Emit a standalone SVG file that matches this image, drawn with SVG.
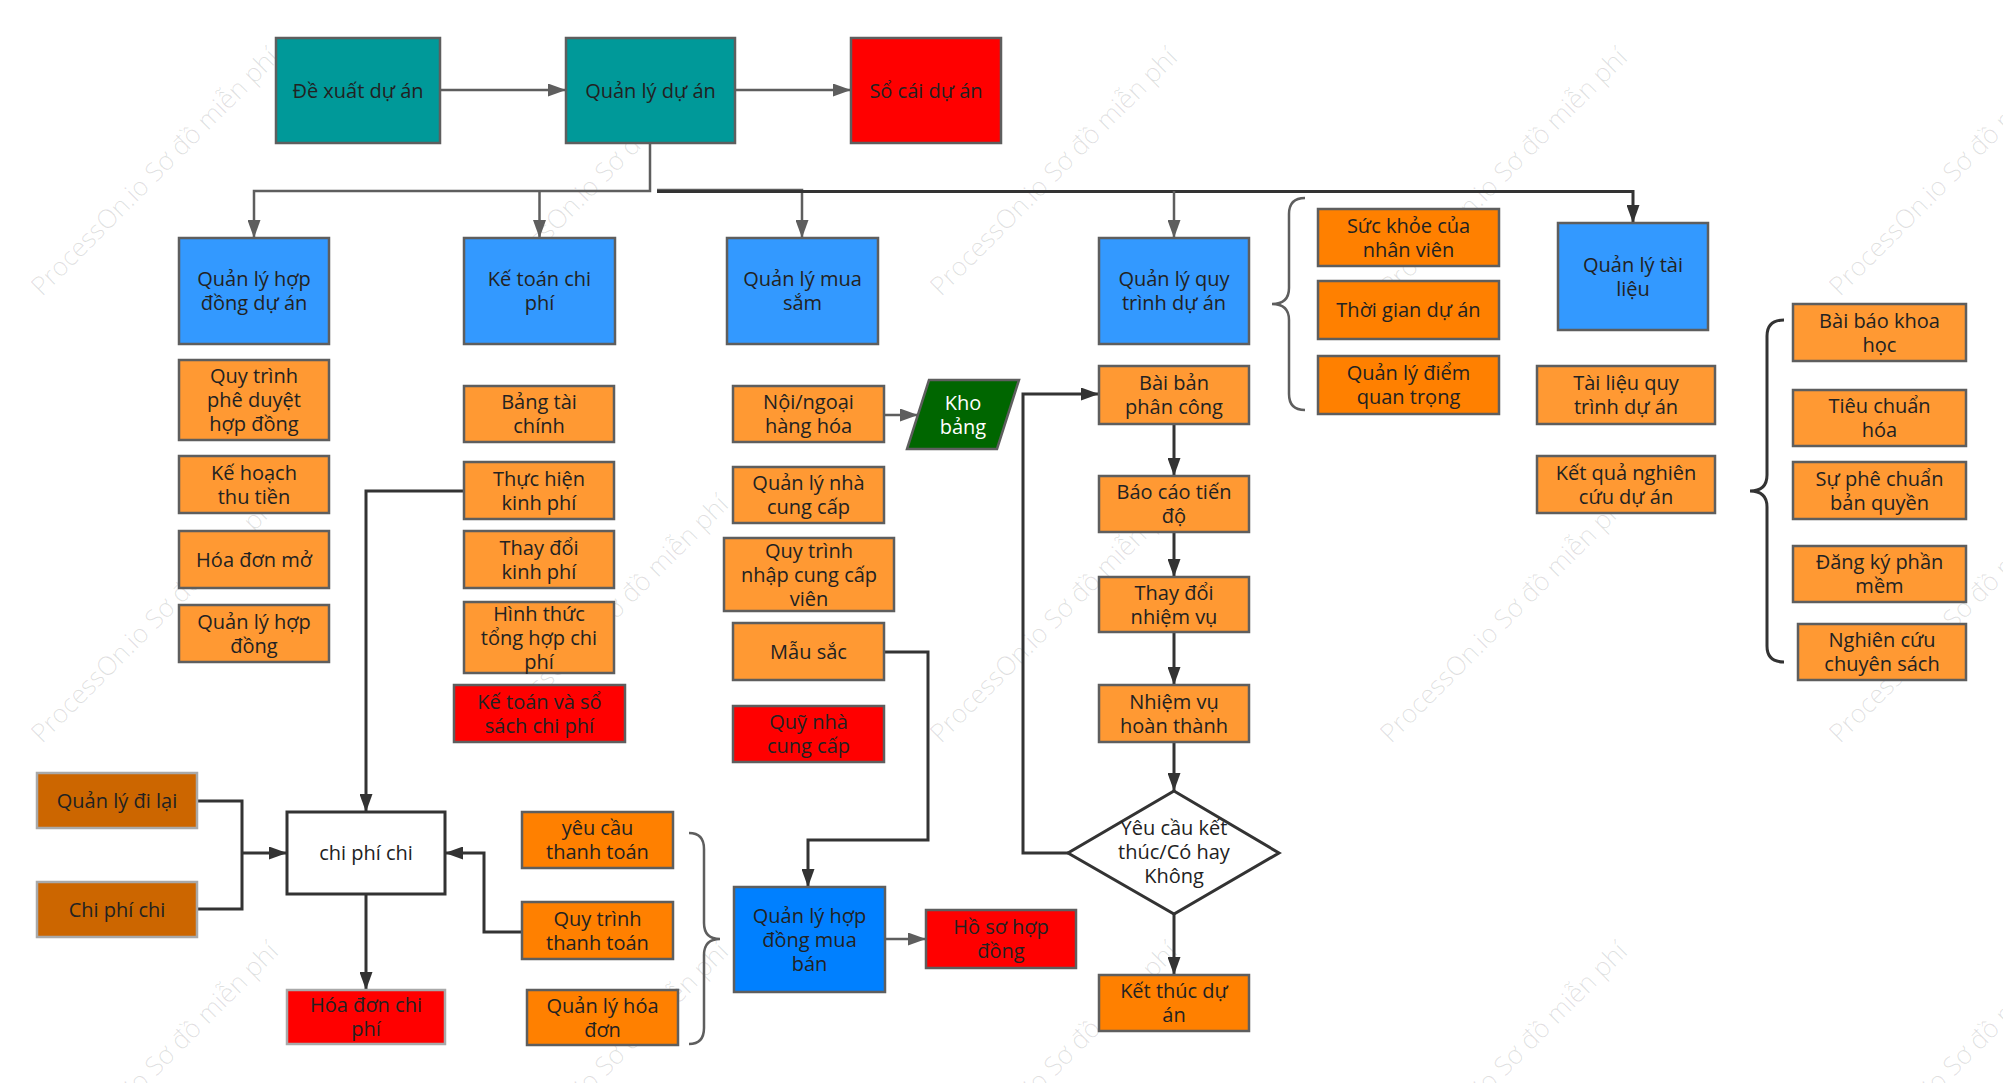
<svg xmlns="http://www.w3.org/2000/svg" width="2003" height="1083" viewBox="0 0 2003 1083">
<defs>
<style>
.b{stroke:#5e5e5e;stroke-width:2.5}
.bl{stroke:#a9a9a9;stroke-width:2.5}
.bd{stroke:#333;stroke-width:3}
.teal{fill:#009999}.red{fill:#ff0000}.blue{fill:#3399ff}.or{fill:#ff9933}.ord{fill:#ff8000}.br{fill:#cc6600}.bb{fill:#0080ff}.gr{fill:#006600}.wh{fill:#ffffff}
text{font-family:"Open Sans","Noto Sans","DejaVu Sans",sans-serif;font-size:20px;fill:#222;text-anchor:middle}
.wt{fill:#ffffff}
.cg{fill:none;stroke:#5e5e5e;stroke-width:2.5}
.cd{fill:none;stroke:#333;stroke-width:3}
.wm{font-size:26px;fill:#000;fill-opacity:0.12;text-anchor:start;font-weight:300}
</style>
<marker id="ag" viewBox="0 0 18 13" refX="18" refY="6.5" markerWidth="18" markerHeight="13" markerUnits="userSpaceOnUse" orient="auto"><path d="M0,0 L18,6.5 L0,13 z" fill="#5e5e5e"/></marker>
<marker id="ad" viewBox="0 0 18 13" refX="18" refY="6.5" markerWidth="18" markerHeight="13" markerUnits="userSpaceOnUse" orient="auto"><path d="M0,0 L18,6.5 L0,13 z" fill="#333"/></marker>
</defs>
<rect width="2003" height="1083" fill="#ffffff"/>

<g id="watermark">
<text class="wm" transform="translate(42,297) rotate(-45)">ProcessOn.io Sơ đồ miễn phí</text>
<text class="wm" transform="translate(492,297) rotate(-45)">ProcessOn.io Sơ đồ miễn phí</text>
<text class="wm" transform="translate(941,297) rotate(-45)">ProcessOn.io Sơ đồ miễn phí</text>
<text class="wm" transform="translate(1391,297) rotate(-45)">ProcessOn.io Sơ đồ miễn phí</text>
<text class="wm" transform="translate(1840,297) rotate(-45)">ProcessOn.io Sơ đồ miễn phí</text>
<text class="wm" transform="translate(42,744) rotate(-45)">ProcessOn.io Sơ đồ miễn phí</text>
<text class="wm" transform="translate(492,744) rotate(-45)">ProcessOn.io Sơ đồ miễn phí</text>
<text class="wm" transform="translate(941,744) rotate(-45)">ProcessOn.io Sơ đồ miễn phí</text>
<text class="wm" transform="translate(1391,744) rotate(-45)">ProcessOn.io Sơ đồ miễn phí</text>
<text class="wm" transform="translate(1840,744) rotate(-45)">ProcessOn.io Sơ đồ miễn phí</text>
<text class="wm" transform="translate(42,1191) rotate(-45)">ProcessOn.io Sơ đồ miễn phí</text>
<text class="wm" transform="translate(492,1191) rotate(-45)">ProcessOn.io Sơ đồ miễn phí</text>
<text class="wm" transform="translate(941,1191) rotate(-45)">ProcessOn.io Sơ đồ miễn phí</text>
<text class="wm" transform="translate(1391,1191) rotate(-45)">ProcessOn.io Sơ đồ miễn phí</text>
<text class="wm" transform="translate(1840,1191) rotate(-45)">ProcessOn.io Sơ đồ miễn phí</text>
</g>

<g id="connectors">
<path class="cg" d="M440,90 H566" marker-end="url(#ag)"/>
<path class="cg" d="M735,90 H851" marker-end="url(#ag)"/>
<path class="cg" d="M650,143 V191 H254 V238" marker-end="url(#ag)"/>
<path class="cg" d="M539.5,191 V238" marker-end="url(#ag)"/>
<path class="cg" d="M657,190 H802 V238" marker-end="url(#ag)"/>
<path class="cd" d="M657,191.5 H1633 V223" marker-end="url(#ad)"/>
<path class="cg" d="M1174,191 V238" marker-end="url(#ag)"/>
<path class="cg" d="M885,415 H918" marker-end="url(#ag)"/>
<path class="cd" d="M884,652 H928 V840 H808 V887" marker-end="url(#ad)"/>
<path class="cg" d="M885,939 H926" marker-end="url(#ag)"/>
<path class="cd" d="M464,491 H366 V812" marker-end="url(#ad)"/>
<path class="cd" d="M366,894 V990" marker-end="url(#ad)"/>
<path class="cd" d="M197,801 H242 V909 H197"/>
<path class="cd" d="M242,853 H287" marker-end="url(#ad)"/>
<path class="cd" d="M522,932 H484 V853 H445" marker-end="url(#ad)"/>
<path class="cd" d="M1174,424 V476" marker-end="url(#ad)"/>
<path class="cd" d="M1174,532 V577" marker-end="url(#ad)"/>
<path class="cd" d="M1174,632 V685" marker-end="url(#ad)"/>
<path class="cd" d="M1174,742 V791" marker-end="url(#ad)"/>
<path class="cd" d="M1174,914 V975" marker-end="url(#ad)"/>
<path class="cd" d="M1068,853 H1023 V394 H1099" marker-end="url(#ad)"/>
<path class="cg" d="M1305,198 Q1289,198 1289,214 L1289,288 Q1289,304 1272,304 Q1289,304 1289,320 L1289,394 Q1289,410 1305,410"/>
<path class="cd" d="M1784,320 Q1767,320 1767,336 L1767,475 Q1767,491 1750,491 Q1767,491 1767,507 L1767,646 Q1767,662 1784,662"/>
<path class="cg" d="M689,833 Q704,833 704,849 L704,923 Q704,939 720,939 Q704,939 704,955 L704,1028 Q704,1044 689,1044"/>
</g>

<g id="n_de_xuat"><rect class="b teal" x="276" y="38" width="164" height="105"/><text x="358" y="97.5">Đề xuất dự án</text></g>
<g id="n_quan_ly_du_an"><rect class="b teal" x="566" y="38" width="169" height="105"/><text x="650.5" y="97.5">Quản lý dự án</text></g>
<g id="n_so_cai"><rect class="b red" x="851" y="38" width="150" height="105"/><text x="926" y="97.5">Sổ cái dự án</text></g>

<g id="n_ql_hop_dong_du_an"><rect class="b blue" x="179" y="238" width="150" height="106"/><text x="254" y="286">Quản lý hợp<tspan x="254" dy="24">đồng dự án</tspan></text></g>
<g id="n_ke_toan_chi_phi"><rect class="b blue" x="464" y="238" width="151" height="106"/><text x="539.5" y="286">Kế toán chi<tspan x="539.5" dy="24">phí</tspan></text></g>
<g id="n_ql_mua_sam"><rect class="b blue" x="727" y="238" width="151" height="106"/><text x="802.5" y="286">Quản lý mua<tspan x="802.5" dy="24">sắm</tspan></text></g>
<g id="n_ql_quy_trinh"><rect class="b blue" x="1099" y="238" width="150" height="106"/><text x="1174" y="286">Quản lý quy<tspan x="1174" dy="24">trình dự án</tspan></text></g>
<g id="n_ql_tai_lieu"><rect class="b blue" x="1558" y="223" width="150" height="107"/><text x="1633" y="271.5">Quản lý tài<tspan x="1633" dy="24">liệu</tspan></text></g>

<g id="n_qt_phe_duyet"><rect class="b or" x="179" y="360" width="150" height="80"/><text x="254" y="383">Quy trình<tspan x="254" dy="24">phê duyệt</tspan><tspan x="254" dy="24">hợp đồng</tspan></text></g>
<g id="n_ke_hoach_thu_tien"><rect class="b or" x="179" y="456" width="150" height="57"/><text x="254" y="479.5">Kế hoạch<tspan x="254" dy="24">thu tiền</tspan></text></g>
<g id="n_hoa_don_mo"><rect class="b or" x="179" y="531" width="150" height="57"/><text x="254" y="566.5">Hóa đơn mở</text></g>
<g id="n_ql_hop_dong"><rect class="b or" x="179" y="605" width="150" height="57"/><text x="254" y="628.5">Quản lý hợp<tspan x="254" dy="24">đồng</tspan></text></g>

<g id="n_bang_tai_chinh"><rect class="b or" x="464" y="386" width="150" height="56"/><text x="539" y="409">Bảng tài<tspan x="539" dy="24">chính</tspan></text></g>
<g id="n_thuc_hien_kinh_phi"><rect class="b or" x="464" y="462" width="150" height="57"/><text x="539" y="485.5">Thực hiện<tspan x="539" dy="24">kinh phí</tspan></text></g>
<g id="n_thay_doi_kinh_phi"><rect class="b or" x="464" y="531" width="150" height="57"/><text x="539" y="554.5">Thay đổi<tspan x="539" dy="24">kinh phí</tspan></text></g>
<g id="n_hinh_thuc"><rect class="b or" x="464" y="602" width="150" height="71"/><text x="539" y="620.5">Hình thức<tspan x="539" dy="24">tổng hợp chi</tspan><tspan x="539" dy="24">phí</tspan></text></g>
<g id="n_ke_toan_so_sach"><rect class="b red" x="454" y="685" width="171" height="57"/><text x="539.5" y="708.5">Kế toán và sổ<tspan x="539.5" dy="24">sách chi phí</tspan></text></g>

<g id="n_noi_ngoai"><rect class="b or" x="733" y="386" width="151" height="56"/><text x="808.5" y="409">Nội/ngoại<tspan x="808.5" dy="24">hàng hóa</tspan></text></g>
<g id="n_kho_bang"><path class="b gr" d="M929,380 L1019,380 L997,449 L907,449 Z"/><text class="wt" x="963" y="409.5">Kho<tspan x="963" dy="24">bảng</tspan></text></g>
<g id="n_ql_nha_cung_cap"><rect class="b or" x="733" y="467" width="151" height="56"/><text x="808.5" y="490">Quản lý nhà<tspan x="808.5" dy="24">cung cấp</tspan></text></g>
<g id="n_qt_nhap"><rect class="b or" x="724" y="538" width="170" height="73"/><text x="809" y="557.5">Quy trình<tspan x="809" dy="24">nhập cung cấp</tspan><tspan x="809" dy="24">viên</tspan></text></g>
<g id="n_mau_sac"><rect class="b or" x="733" y="623" width="151" height="57"/><text x="808.5" y="658.5">Mẫu sắc</text></g>
<g id="n_quy_ncc"><rect class="b red" x="733" y="706" width="151" height="56"/><text x="808.5" y="729">Quỹ nhà<tspan x="808.5" dy="24">cung cấp</tspan></text></g>
<g id="n_ql_hd_mua_ban"><rect class="b bb" x="734" y="887" width="151" height="105"/><text x="809.5" y="922.5">Quản lý hợp<tspan x="809.5" dy="24">đồng mua</tspan><tspan x="809.5" dy="24">bán</tspan></text></g>
<g id="n_ho_so_hd"><rect class="b red" x="926" y="910" width="150" height="58"/><text x="1001" y="934">Hồ sơ hợp<tspan x="1001" dy="24">đồng</tspan></text></g>

<g id="n_ql_di_lai"><rect class="bl br" x="37" y="773" width="160" height="55"/><text x="117" y="807.5">Quản lý đi lại</text></g>
<g id="n_chi_phi_chi_src"><rect class="bl br" x="37" y="882" width="160" height="55"/><text x="117" y="916.5">Chi phí chi</text></g>
<g id="n_chi_phi_chi"><rect class="bd wh" x="287" y="812" width="158" height="82"/><text x="366" y="860">chi phí chi</text></g>
<g id="n_hoa_don_chi_phi"><rect class="bl red" x="287" y="990" width="158" height="54"/><text x="366" y="1012">Hóa đơn chi<tspan x="366" dy="24">phí</tspan></text></g>
<g id="n_yeu_cau_tt"><rect class="b ord" x="522" y="812" width="151" height="56"/><text x="597.5" y="835">yêu cầu<tspan x="597.5" dy="24">thanh toán</tspan></text></g>
<g id="n_qt_thanh_toan"><rect class="b ord" x="522" y="902" width="151" height="57"/><text x="597.5" y="925.5">Quy trình<tspan x="597.5" dy="24">thanh toán</tspan></text></g>
<g id="n_ql_hoa_don"><rect class="b ord" x="527" y="990" width="151" height="55"/><text x="602.5" y="1012.5">Quản lý hóa<tspan x="602.5" dy="24">đơn</tspan></text></g>

<g id="n_bai_ban"><rect class="b or" x="1099" y="366" width="150" height="58"/><text x="1174" y="390">Bài bản<tspan x="1174" dy="24">phân công</tspan></text></g>
<g id="n_bao_cao"><rect class="b or" x="1099" y="476" width="150" height="56"/><text x="1174" y="499">Báo cáo tiến<tspan x="1174" dy="24">độ</tspan></text></g>
<g id="n_thay_doi_nv"><rect class="b or" x="1099" y="577" width="150" height="55"/><text x="1174" y="599.5">Thay đổi<tspan x="1174" dy="24">nhiệm vụ</tspan></text></g>
<g id="n_nv_hoan_thanh"><rect class="b or" x="1099" y="685" width="150" height="57"/><text x="1174" y="708.5">Nhiệm vụ<tspan x="1174" dy="24">hoàn thành</tspan></text></g>
<g id="n_yeu_cau_ket_thuc"><path class="bd wh" d="M1174,791 L1279,853 L1174,914 L1068,853 Z"/><text x="1174" y="835">Yêu cầu kết<tspan x="1174" dy="24">thúc/Có hay</tspan><tspan x="1174" dy="24">Không</tspan></text></g>
<g id="n_ket_thuc"><rect class="b ord" x="1099" y="975" width="150" height="56"/><text x="1174" y="998">Kết thúc dự<tspan x="1174" dy="24">án</tspan></text></g>

<g id="n_suc_khoe"><rect class="b ord" x="1318" y="209" width="181" height="57"/><text x="1408.5" y="232.5">Sức khỏe của<tspan x="1408.5" dy="24">nhân viên</tspan></text></g>
<g id="n_thoi_gian"><rect class="b ord" x="1318" y="281" width="181" height="58"/><text x="1408.5" y="317">Thời gian dự án</text></g>
<g id="n_diem_quan_trong"><rect class="b ord" x="1318" y="356" width="181" height="58"/><text x="1408.5" y="380">Quản lý điểm<tspan x="1408.5" dy="24">quan trọng</tspan></text></g>

<g id="n_tai_lieu_qt"><rect class="b or" x="1537" y="366" width="178" height="58"/><text x="1626" y="390">Tài liệu quy<tspan x="1626" dy="24">trình dự án</tspan></text></g>
<g id="n_ket_qua_nc"><rect class="b or" x="1537" y="456" width="178" height="57"/><text x="1626" y="479.5">Kết quả nghiên<tspan x="1626" dy="24">cứu dự án</tspan></text></g>

<g id="n_bai_bao"><rect class="b or" x="1793" y="304" width="173" height="57"/><text x="1879.5" y="327.5">Bài báo khoa<tspan x="1879.5" dy="24">học</tspan></text></g>
<g id="n_tieu_chuan"><rect class="b or" x="1793" y="390" width="173" height="56"/><text x="1879.5" y="413">Tiêu chuẩn<tspan x="1879.5" dy="24">hóa</tspan></text></g>
<g id="n_phe_chuan"><rect class="b or" x="1793" y="462" width="173" height="57"/><text x="1879.5" y="485.5">Sự phê chuẩn<tspan x="1879.5" dy="24">bản quyền</tspan></text></g>
<g id="n_dang_ky"><rect class="b or" x="1793" y="546" width="173" height="56"/><text x="1879.5" y="569">Đăng ký phần<tspan x="1879.5" dy="24">mềm</tspan></text></g>
<g id="n_nghien_cuu"><rect class="b or" x="1798" y="624" width="168" height="56"/><text x="1882" y="647">Nghiên cứu<tspan x="1882" dy="24">chuyên sách</tspan></text></g>
</svg>
